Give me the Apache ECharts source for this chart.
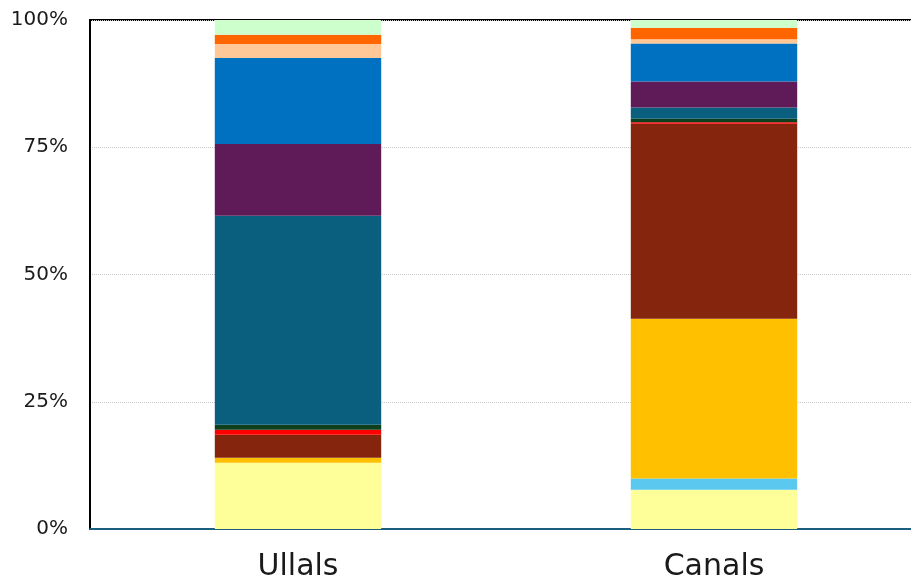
<!DOCTYPE html>
<html>
<head>
<meta charset="utf-8">
<script src="https://cdn.jsdelivr.net/npm/echarts@6/dist/echarts.min.js"></script>
<style>
  html, body { margin: 0; padding: 0; background: #fff; }
  #main { width: 911px; height: 584px; }
</style>
</head>
<body>
<div id="main"></div>
<script>
// categories and share of each component (%), bottom to top
var categories = ['Ullals', 'Canals'];
var seriesNames = ['s1', 's2', 's3', 's4', 's5', 's6', 's7', 's8', 's9', 's10', 's11', 's12'];
var seriesColors = ['#FFFF99', '#5BC8F0', '#FFC000', '#86250E', '#FF0000', '#0E3F1C',
                    '#0A5F7F', '#5F1B57', '#0070C0', '#FFC896', '#FF6600', '#CCFFCC'];
var ullalsValues = [13.0, 0, 1.0, 4.5, 1.0, 1.0, 41.05, 14.1, 16.9, 2.75, 1.8, 2.9];
var canalsValues = [7.7, 2.2, 31.4, 38.3, 0.3, 0.7, 2.2, 5.1, 7.5, 0.8, 2.3, 1.5];
var yTicks = [0, 25, 50, 75, 100];

var myChart = echarts.init(document.getElementById('main'));

var series = [];
for (var i = 0; i < seriesNames.length; i++) {
    series.push({
        name: seriesNames[i],
        type: 'bar',
        stack: 'total',
        barWidth: '40%',
        itemStyle: { color: seriesColors[i] },
        data: [ullalsValues[i], canalsValues[i]]
    });
}

var option = {
    animation: false,
    grid: {
        left: 90,
        width: 832,   // plot runs past the right edge of the picture
        top: 20,
        bottom: 55,
        outerBoundsMode: 'none',
        show: true,
        borderColor: '#000',
        borderWidth: 2
    },
    xAxis: {
        type: 'category',
        data: categories,
        axisLine: { lineStyle: { color: '#1B5E7E', width: 2 } },
        axisTick: { show: false },
        axisLabel: {
            fontSize: 30,
            color: '#1a1a1a',
            fontFamily: 'DejaVu Sans',
            margin: 23
        }
    },
    yAxis: {
        type: 'value',
        min: 0,
        max: 100,
        interval: 25,
        axisLine: { show: true, lineStyle: { color: '#000', width: 2 } },
        axisTick: { show: false },
        splitLine: { lineStyle: { color: '#c8c8c8', type: 'dotted', width: 1 } },
        axisLabel: {
            fontSize: 20,
            color: '#1a1a1a',
            fontFamily: 'DejaVu Sans',
            margin: 22,
            formatter: function (v) { return yTicks.indexOf(v) >= 0 ? v + '%' : ''; }
        }
    },
    series: series
};
myChart.setOption(option);
</script>
</body>
</html>
